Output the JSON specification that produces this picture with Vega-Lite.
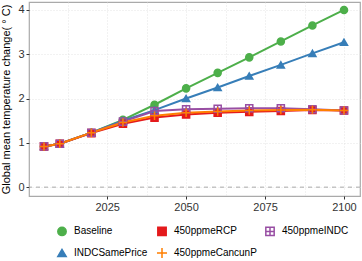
{
  "$schema": "https://vega.github.io/schema/vega-lite/v6.json",
  "width": 331,
  "height": 194,
  "autosize": {"type": "none"},
  "padding": {"left": 29, "top": 2, "right": 2, "bottom": 65},
  "config": {
    "font": "Liberation Sans",
    "view": {"stroke": "#aaaaaa", "strokeWidth": 1.2},
    "axis": {
      "grid": true,
      "gridColor": "#dddddd",
      "gridDash": [1, 2],
      "gridWidth": 0.8,
      "domain": false,
      "labelFont": "Liberation Sans",
      "labelFontSize": 11,
      "labelColor": "#333333",
      "tickColor": {"condition": {"test": "datum.value % 1 == 0 && datum.value < 2000 || datum.value % 25 == 0", "value": "#333333"}, "value": "transparent"},
      "tickSize": 3,
      "labelPadding": 2
    },
    "legend": {"orient": "none", "columns": 3, "title": null, "direction": "horizontal"}
  },
  "datasets": {
    "temps": [
      {"series": "Baseline", "year": 2005, "value": 0.92},
      {"series": "Baseline", "year": 2010, "value": 0.98},
      {"series": "Baseline", "year": 2020, "value": 1.23},
      {"series": "Baseline", "year": 2030, "value": 1.52},
      {"series": "Baseline", "year": 2040, "value": 1.86},
      {"series": "Baseline", "year": 2050, "value": 2.23},
      {"series": "Baseline", "year": 2060, "value": 2.58},
      {"series": "Baseline", "year": 2070, "value": 2.93},
      {"series": "Baseline", "year": 2080, "value": 3.29},
      {"series": "Baseline", "year": 2090, "value": 3.65},
      {"series": "Baseline", "year": 2100, "value": 4.0},
      {"series": "INDCSamePrice", "year": 2005, "value": 0.92},
      {"series": "INDCSamePrice", "year": 2010, "value": 0.98},
      {"series": "INDCSamePrice", "year": 2020, "value": 1.23},
      {"series": "INDCSamePrice", "year": 2030, "value": 1.5},
      {"series": "INDCSamePrice", "year": 2040, "value": 1.74},
      {"series": "INDCSamePrice", "year": 2050, "value": 2.0},
      {"series": "INDCSamePrice", "year": 2060, "value": 2.25},
      {"series": "INDCSamePrice", "year": 2070, "value": 2.51},
      {"series": "INDCSamePrice", "year": 2080, "value": 2.76},
      {"series": "INDCSamePrice", "year": 2090, "value": 3.02},
      {"series": "INDCSamePrice", "year": 2100, "value": 3.27},
      {"series": "450ppmeRCP", "year": 2005, "value": 0.92},
      {"series": "450ppmeRCP", "year": 2010, "value": 0.98},
      {"series": "450ppmeRCP", "year": 2020, "value": 1.22},
      {"series": "450ppmeRCP", "year": 2030, "value": 1.43},
      {"series": "450ppmeRCP", "year": 2040, "value": 1.57},
      {"series": "450ppmeRCP", "year": 2050, "value": 1.64},
      {"series": "450ppmeRCP", "year": 2060, "value": 1.68},
      {"series": "450ppmeRCP", "year": 2070, "value": 1.7},
      {"series": "450ppmeRCP", "year": 2080, "value": 1.72},
      {"series": "450ppmeRCP", "year": 2090, "value": 1.74},
      {"series": "450ppmeRCP", "year": 2100, "value": 1.73},
      {"series": "450ppmeINDC", "year": 2005, "value": 0.92},
      {"series": "450ppmeINDC", "year": 2010, "value": 0.98},
      {"series": "450ppmeINDC", "year": 2020, "value": 1.23},
      {"series": "450ppmeINDC", "year": 2030, "value": 1.48},
      {"series": "450ppmeINDC", "year": 2040, "value": 1.72},
      {"series": "450ppmeINDC", "year": 2050, "value": 1.76},
      {"series": "450ppmeINDC", "year": 2060, "value": 1.77},
      {"series": "450ppmeINDC", "year": 2070, "value": 1.78},
      {"series": "450ppmeINDC", "year": 2080, "value": 1.78},
      {"series": "450ppmeINDC", "year": 2090, "value": 1.76},
      {"series": "450ppmeINDC", "year": 2100, "value": 1.73},
      {"series": "450ppmeCancunP", "year": 2005, "value": 0.92},
      {"series": "450ppmeCancunP", "year": 2010, "value": 0.98},
      {"series": "450ppmeCancunP", "year": 2020, "value": 1.23},
      {"series": "450ppmeCancunP", "year": 2030, "value": 1.46},
      {"series": "450ppmeCancunP", "year": 2040, "value": 1.61},
      {"series": "450ppmeCancunP", "year": 2050, "value": 1.68},
      {"series": "450ppmeCancunP", "year": 2060, "value": 1.71},
      {"series": "450ppmeCancunP", "year": 2070, "value": 1.73},
      {"series": "450ppmeCancunP", "year": 2080, "value": 1.74},
      {"series": "450ppmeCancunP", "year": 2090, "value": 1.75},
      {"series": "450ppmeCancunP", "year": 2100, "value": 1.73}
    ],
    "zero": [{"y": 0}]
  },
  "layer": [
    {
      "data": {"name": "zero"},
      "mark": {"type": "rule", "color": "#aaaaaa", "strokeDash": [4, 4], "strokeWidth": 1},
      "encoding": {
        "y": {"field": "y", "type": "quantitative"}
      }
    },
    {
      "data": {"name": "temps"},
      "mark": {"type": "line", "strokeWidth": 2},
      "encoding": {
        "x": {"field": "year", "type": "quantitative",
          "scale": {"domain": [2000.25, 2105.07], "nice": false, "zero": false},
          "axis": {"title": null, "values": [2012.5, 2025, 2037.5, 2050, 2062.5, 2075, 2087.5, 2100], "format": "d",
            "labelExpr": "datum.value % 25 == 0 ? datum.label : ''"}},
        "y": {"field": "value", "type": "quantitative",
          "scale": {"domain": [-0.2, 4.18], "nice": false, "zero": false},
          "axis": {"title": "Global mean temperature change( ° C)", "titleFont": "Liberation Sans", "titleFontSize": 11, "titleFontWeight": "normal", "titleColor": "#000000", "titlePadding": 6,
            "values": [0, 0.5, 1, 1.5, 2, 2.5, 3, 3.5, 4], "labelExpr": "datum.value % 1 == 0 ? datum.label : ''"}},
        "color": {"field": "series", "type": "nominal",
          "scale": {"domain": ["Baseline", "450ppmeRCP", "450ppmeINDC", "INDCSamePrice", "450ppmeCancunP"],
            "range": ["#4DAF4A", "#E41A1C", "#984EA3", "#377EB8", "#FF7F00"]}},
        "detail": {"field": "series"}
      }
    },
    {
      "data": {"name": "temps"},
      "mark": {"type": "point", "filled": false, "strokeWidth": 1.5, "size": 50, "opacity": 1},
      "encoding": {
        "x": {"field": "year", "type": "quantitative"},
        "y": {"field": "value", "type": "quantitative"},
        "color": {"field": "series", "type": "nominal",
          "scale": {"domain": ["Baseline", "450ppmeRCP", "450ppmeINDC", "INDCSamePrice", "450ppmeCancunP"],
            "range": ["#4DAF4A", "#E41A1C", "#984EA3", "#377EB8", "#FF7F00"]},
          "legend": {"title": null, "orient": "none", "direction": "horizontal", "legendX": 28, "legendY": 224, "columns": 3, "columnPadding": 5, "rowPadding": 5, "labelFontSize": 10, "labelColor": "#000000", "labelOffset": 7, "symbolSize": 70, "symbolStrokeWidth": 1.5, "padding": 0}},
        "fill": {"field": "series", "type": "nominal",
          "scale": {"domain": ["Baseline", "450ppmeRCP", "450ppmeINDC", "INDCSamePrice", "450ppmeCancunP"],
            "range": ["#4DAF4A", "#E41A1C", "rgba(255,255,255,0)", "#377EB8", "#FF7F00"]},
          "legend": {"title": null, "orient": "none", "direction": "horizontal", "columns": 3}},
        "shape": {"field": "series", "type": "nominal",
          "scale": {"domain": ["Baseline", "450ppmeRCP", "450ppmeINDC", "INDCSamePrice", "450ppmeCancunP"],
            "range": ["circle", "square", "M-1,-1H1V1H-1ZM-1,0H1M0,-1V1", "triangle-up", "M-1.2,0H1.2M0,-1.2V1.2"]},
          "legend": {"title": null, "orient": "none", "direction": "horizontal", "columns": 3}}
      }
    }
  ]
}
